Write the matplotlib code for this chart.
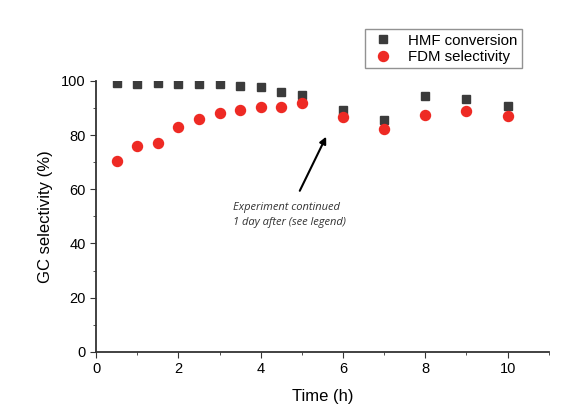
import numpy as np
import matplotlib.pyplot as plt

plt.rcParams['font.family'] = ['Liberation Sans', 'DejaVu Sans']

# Data
time = [0.5, 1, 1.5, 2, 2.5, 3, 3.5, 4, 4.5, 5, 6, 7, 8, 9, 10]
hmf_conversion = [99.1, 99.0, 99.3, 99.0, 98.8, 98.7, 98.1, 97.6, 95.9, 94.8, 89.3, 85.5, 94.5, 93.4, 90.8]
fdm_selectivity = [70.3, 75.8, 77.2, 83.1, 86.0, 88.3, 89.2, 90.2, 90.3, 91.8, 86.5, 82.4, 87.2, 88.7, 86.9]

fig = plt.figure(figsize=(5.82, 4.04), dpi=100)
ax = fig.add_axes([0.165, 0.129, 0.778, 0.671])

ax.plot(time, hmf_conversion, 's', color='#3b3b3b', markersize=6.3, label='HMF conversion')
ax.plot(time, fdm_selectivity, 'o', color='#ee2a24', markersize=7.2, label='FDM selectivity')

ax.set_xlim(0, 11)
ax.set_ylim(0, 100)
ax.set_xticks([0, 2, 4, 6, 8, 10])
ax.set_xticks([1, 3, 5, 7, 9, 11], minor=True)
ax.set_yticks([0, 20, 40, 60, 80, 100])
ax.set_yticks([10, 30, 50, 70, 90], minor=True)
ax.tick_params(which='both', direction='out', labelsize=10.5, color='#333333')
ax.tick_params(which='major', length=4)
ax.tick_params(which='minor', length=2.5)
for side in ['top', 'right']:
    ax.spines[side].set_visible(False)
for side in ['left', 'bottom']:
    ax.spines[side].set_linewidth(1.3)
    ax.spines[side].set_color('#333333')

ax.set_xlabel('Time (h)', fontsize=12, labelpad=9)
ax.set_ylabel('GC selectivity (%)', fontsize=12, labelpad=6)

ax.annotate('', xy=(5.62, 80.3), xytext=(4.92, 58.5),
            arrowprops=dict(arrowstyle='-|>', color='black', lw=1.5, mutation_scale=10))
ax.text(3.33, 50.5, 'Experiment continued\n1 day after (see legend)', fontsize=8,
        style='italic', family='Open Sans', color='#333333', va='center', linespacing=1.4)

fig.legend(loc='upper left', bbox_to_anchor=(0.627, 0.928), borderaxespad=0, fontsize=10.8,
           frameon=True, fancybox=False, edgecolor='#777777', borderpad=0.3,
           handletextpad=0.8, labelspacing=0.15, handlelength=1.8)

fig.savefig('out.png', dpi=100)
